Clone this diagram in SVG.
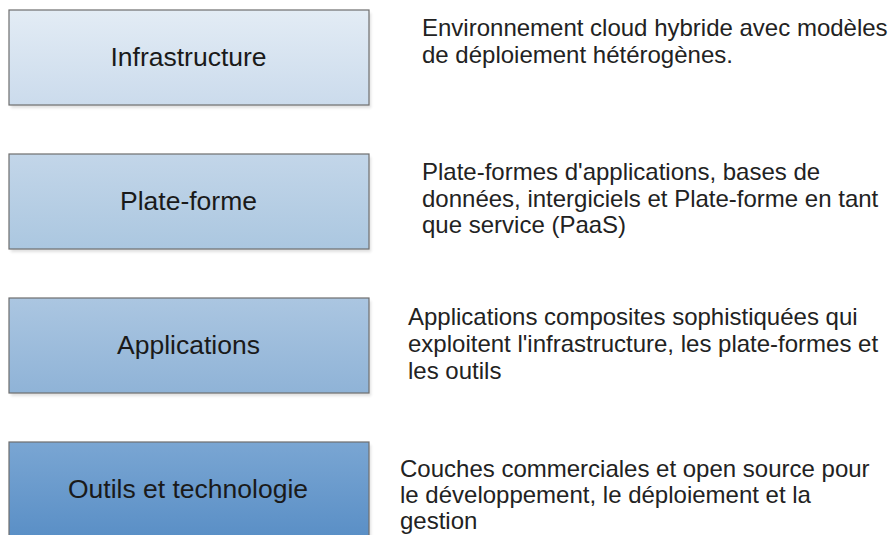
<svg xmlns="http://www.w3.org/2000/svg" width="889" height="535" viewBox="0 0 889 535">
<style>
.box{stroke:#6e6e6e;stroke-width:1.2}
.shadow{fill:#000;opacity:0.12}
.lbl{font-family:"Liberation Sans",Arial,sans-serif;font-size:26.5px;fill:#1a1a1a;text-anchor:middle}
.desc{font-family:"Liberation Sans",Arial,sans-serif;font-size:24px;fill:#222}
</style>
<defs>
<linearGradient id="g1" x1="0" y1="0" x2="0" y2="1"><stop offset="0" stop-color="#e3ecf5"/><stop offset="1" stop-color="#cbdbec"/></linearGradient>
<linearGradient id="g2" x1="0" y1="0" x2="0" y2="1"><stop offset="0" stop-color="#c3d6e9"/><stop offset="1" stop-color="#abc7e0"/></linearGradient>
<linearGradient id="g3" x1="0" y1="0" x2="0" y2="1"><stop offset="0" stop-color="#abc6e1"/><stop offset="1" stop-color="#8fb3d7"/></linearGradient>
<linearGradient id="g4" x1="0" y1="0" x2="0" y2="1"><stop offset="0" stop-color="#7aa6d3"/><stop offset="1" stop-color="#5a8fc6"/></linearGradient>
<filter id="blur" x="-5%" y="-5%" width="110%" height="120%"><feGaussianBlur stdDeviation="1.5"/></filter>
</defs>
<g id="connectors"></g>
<g id="node-infrastructure">
<rect class="shadow" x="11" y="13" width="360" height="95" filter="url(#blur)"/>
<rect class="box" x="9" y="10" width="360" height="95" fill="url(#g1)"/>
<text class="lbl" x="188.5" y="66">Infrastructure</text>
</g>
<g id="node-plateforme">
<rect class="shadow" x="11" y="157" width="360" height="95" filter="url(#blur)"/>
<rect class="box" x="9" y="154" width="360" height="95" fill="url(#g2)"/>
<text class="lbl" x="188.5" y="210">Plate-forme</text>
</g>
<g id="node-applications">
<rect class="shadow" x="11" y="301" width="360" height="95" filter="url(#blur)"/>
<rect class="box" x="9" y="298" width="360" height="95" fill="url(#g3)"/>
<text class="lbl" x="188.5" y="354">Applications</text>
</g>
<g id="node-outils">
<rect class="shadow" x="11" y="445" width="360" height="95" filter="url(#blur)"/>
<rect class="box" x="9" y="442" width="360" height="95" fill="url(#g4)"/>
<text class="lbl" x="188" y="498">Outils et technologie</text>
</g>
<g id="desc-infrastructure">
<text class="desc" x="422" y="36">Environnement cloud hybride avec modèles</text>
<text class="desc" x="422" y="63">de déploiement hétérogènes.</text>
</g>
<g id="desc-plateforme">
<text class="desc" x="422" y="180">Plate-formes d'applications, bases de</text>
<text class="desc" x="422" y="207">données, intergiciels et Plate-forme en tant</text>
<text class="desc" x="422" y="233">que service (PaaS)</text>
</g>
<g id="desc-applications">
<text class="desc" x="408" y="325">Applications composites sophistiquées qui</text>
<text class="desc" x="408" y="352">exploitent l'infrastructure, les plate-formes et</text>
<text class="desc" x="408" y="379">les outils</text>
</g>
<g id="desc-outils">
<text class="desc" x="400" y="477">Couches commerciales et open source pour</text>
<text class="desc" x="400" y="503">le développement, le déploiement et la</text>
<text class="desc" x="400" y="529">gestion</text>
</g>
</svg>
